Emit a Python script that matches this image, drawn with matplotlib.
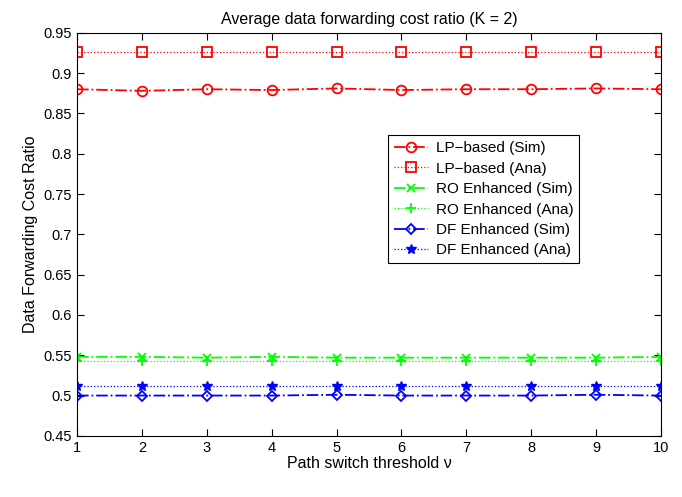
import numpy as np
import matplotlib.pyplot as plt

plt.rcParams['font.family'] = ['Liberation Sans', 'DejaVu Sans']

# path switch threshold
nu = [1, 2, 3, 4, 5, 6, 7, 8, 9, 10]

lp_sim = [0.880, 0.878, 0.880, 0.879, 0.881, 0.879, 0.880, 0.880, 0.881, 0.880]
lp_ana = [0.926, 0.926, 0.926, 0.926, 0.926, 0.926, 0.926, 0.926, 0.926, 0.926]
ro_sim = [0.548, 0.548, 0.547, 0.548, 0.547, 0.547, 0.547, 0.547, 0.547, 0.548]
ro_ana = [0.543, 0.543, 0.543, 0.543, 0.543, 0.543, 0.543, 0.543, 0.543, 0.543]
df_sim = [0.500, 0.500, 0.500, 0.500, 0.501, 0.500, 0.500, 0.500, 0.501, 0.500]
df_ana = [0.512, 0.512, 0.512, 0.512, 0.512, 0.512, 0.512, 0.512, 0.512, 0.512]

fig = plt.figure(figsize=(6.82, 4.97), dpi=100)
ax = fig.add_axes([0.113, 0.123, 0.856, 0.811])

ax.plot(nu, lp_sim, color='r', ls='-.', lw=1.3, marker='o', ms=7, mfc='none', mew=1.3, label='LP\u2212based (Sim)')
ax.plot(nu, lp_ana, color='r', ls=':', lw=0.9, marker='s', ms=7, mfc='none', mew=1.3, label='LP\u2212based (Ana)')
ax.plot(nu, ro_sim, color=(0, 1, 0), ls='-.', lw=1.3, marker='x', ms=5.5, mew=1.3, label='RO Enhanced (Sim)')
ax.plot(nu, ro_ana, color=(0, 1, 0), ls=':', lw=0.9, marker='+', ms=7, mew=1.3, label='RO Enhanced (Ana)')
ax.plot(nu, df_sim, color='b', ls='-.', lw=1.3, marker='D', ms=5.5, mfc='none', mew=1.3, label='DF Enhanced (Sim)')
ax.plot(nu, df_ana, color='b', ls=':', lw=0.9, marker='*', ms=7, mew=1.0, label='DF Enhanced (Ana)')

ax.set_xlim(1, 10)
ax.set_ylim(0.45, 0.95)
ax.set_xticks(nu)
ax.set_yticks(np.arange(0.45, 0.951, 0.05))
ax.set_yticklabels(['0.45', '0.5', '0.55', '0.6', '0.65', '0.7', '0.75', '0.8', '0.85', '0.9', '0.95'])
ax.tick_params(direction='in', top=True, right=True, labelsize=10.5, length=5)

ax.set_xlabel('Path switch threshold \u03bd', fontsize=11.5, labelpad=1)
ax.set_ylabel('Data Forwarding Cost Ratio', fontsize=11.5)
ax.set_title('Average data forwarding cost ratio (K = 2)', fontsize=11.5, pad=6)

leg = ax.legend(loc='upper left', bbox_to_anchor=(0.533, 0.746), fontsize=11, fancybox=False,
                edgecolor='k', framealpha=1, borderpad=0.4, labelspacing=0.42, handlelength=2.2,
                handletextpad=0.5, borderaxespad=0)
leg.get_frame().set_linewidth(0.8)

fig.savefig('out.png', dpi=100)
